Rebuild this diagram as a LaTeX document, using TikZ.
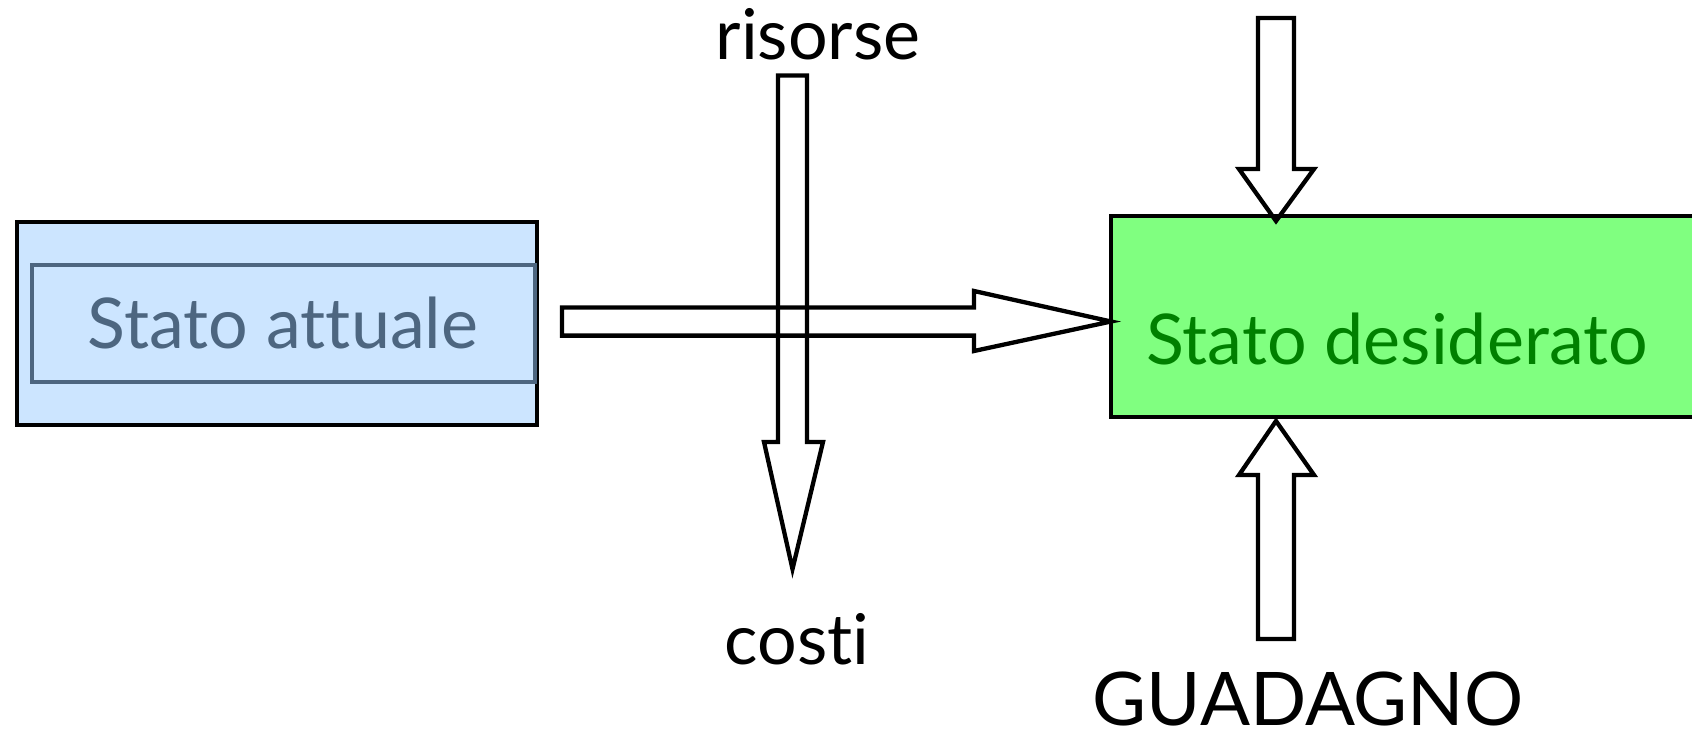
\documentclass[tikz,border=0pt]{standalone}
\usepackage{fontspec}
\setmainfont{Lato}[Ligatures={NoCommon}]
\definecolor{boxblue}{HTML}{CCE5FF}
\definecolor{slate}{HTML}{4D6680}
\definecolor{boxgreen}{HTML}{80FF80}
\definecolor{textgreen}{HTML}{008000}
\begin{document}
\begin{tikzpicture}[x=1pt,y=-1pt,line join=miter,
  blockarrow/.style={draw=black,line width=4.3pt},
  bigtext/.style={font=\fontsize{70}{80}\selectfont,inner sep=0pt,anchor=base}]
\useasboundingbox (0,0) rectangle (1692,739);
\clip (0,0) rectangle (1692,739);
% left box
\node[draw=black,line width=4.3pt,fill=boxblue,minimum width=520pt,minimum height=203pt,inner sep=0pt,anchor=north west] (attuale) at (15,220) {};
\node[draw=slate,line width=4pt,minimum width=503pt,minimum height=117pt,inner sep=0pt,anchor=north west] (attualein) at (30,263) {};
\node[bigtext,text=slate] (attualetxt) at (283,348) {Stato attuale};
% right box
\node[draw=black,line width=4pt,fill=boxgreen,minimum width=620pt,minimum height=201pt,inner sep=0pt,anchor=north west] (desiderato) at (1109,214) {};
\node[bigtext,text=textgreen] (desideratotxt) at (1397,364) {Stato desiderato};
% labels
\node[bigtext] (risorse) at (818,59) {risorse};
\node[bigtext] (costi) at (797,664) {costi};
\node[bigtext,font=\fontsize{74}{84}\selectfont] (guadagno) at (1308,725) {GUADAGNO};
% horizontal arrow
\draw[blockarrow] (562,307.5) -- (974,307.5) -- (974,291) -- (1111,321.5) -- (974,351) -- (974,335.6) -- (562,335.6) -- cycle;
% vertical arrow risorse -> costi
\draw[blockarrow] (778,75.5) -- (807,75.5) -- (807,442) -- (823,442) -- (792.5,569) -- (764,442) -- (778,442) -- cycle;
% top arrow into desired state
\draw[blockarrow] (1258,18) -- (1294,18) -- (1294,169) -- (1314,169) -- (1276,221) -- (1239,169) -- (1258,169) -- cycle;
% bottom arrow into desired state
\draw[blockarrow] (1258,639) -- (1294,639) -- (1294,475) -- (1314,475) -- (1276,421) -- (1239,475) -- (1258,475) -- cycle;
\end{tikzpicture}
\end{document}
